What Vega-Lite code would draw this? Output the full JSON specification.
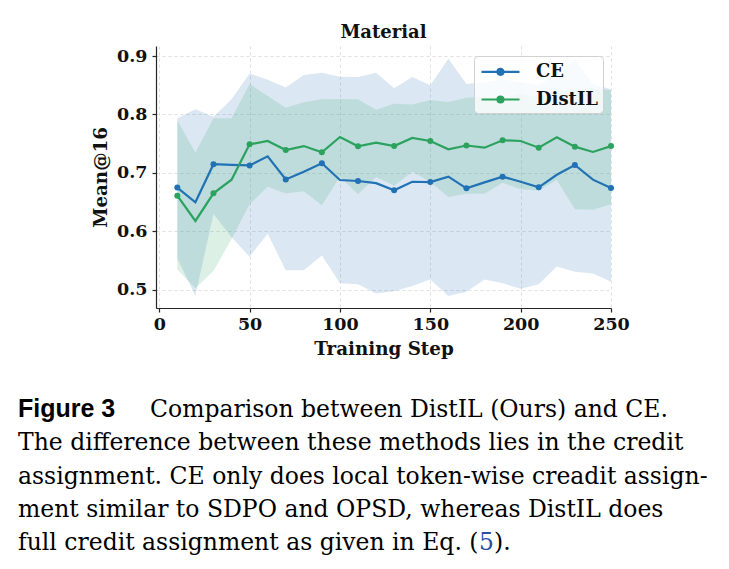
{
  "$schema": "https://vega.github.io/schema/vega-lite/v6.json",
  "background": "white",
  "padding": {"left": 18, "top": 24, "right": 5, "bottom": 5},
  "bounds": "flush",
  "spacing": 109,
  "config": {
    "view": {"stroke": null},
    "axis": {
      "labelFont": "DejaVu Serif", "labelFontWeight": "bold", "labelFontSize": 17.5, "labelColor": "#111111",
      "titleFont": "DejaVu Serif", "titleFontWeight": "bold", "titleFontSize": 18.3, "titleColor": "#111111",
      "domainColor": "#262626", "domainWidth": 1.2, "tickColor": "#262626", "tickWidth": 1.2, "tickSize": 4,
      "gridColor": "#c8c8c8", "gridDash": [3, 3], "gridWidth": 0.8, "gridOpacity": 0.7,
      "labelFlush": false
    },
    "title": {"font": "DejaVu Serif", "fontWeight": "bold", "fontSize": 18, "color": "#111111"}
  },
  "vconcat": [
    {
      "width": 455,
      "height": 262,
      "title": {"text": "Material", "anchor": "middle", "baseline": "alphabetic", "offset": 7, "dy": 17},
      "data": {"values": [
        {"step": 10, "method": "CE", "mean": 0.675, "lo": 0.554, "hi": 0.7935},
        {"step": 20, "method": "CE", "mean": 0.650, "lo": 0.490, "hi": 0.809},
        {"step": 30, "method": "CE", "mean": 0.715, "lo": 0.630, "hi": 0.796},
        {"step": 40, "method": "CE", "mean": 0.714, "lo": 0.590, "hi": 0.826},
        {"step": 50, "method": "CE", "mean": 0.713, "lo": 0.557, "hi": 0.870},
        {"step": 60, "method": "CE", "mean": 0.7285, "lo": 0.596, "hi": 0.8595},
        {"step": 70, "method": "CE", "mean": 0.689, "lo": 0.5336, "hi": 0.846},
        {"step": 80, "method": "CE", "mean": 0.702, "lo": 0.5336, "hi": 0.8675},
        {"step": 90, "method": "CE", "mean": 0.7166, "lo": 0.559, "hi": 0.8715},
        {"step": 100, "method": "CE", "mean": 0.688, "lo": 0.5115, "hi": 0.8646},
        {"step": 110, "method": "CE", "mean": 0.6863, "lo": 0.5097, "hi": 0.864},
        {"step": 120, "method": "CE", "mean": 0.6826, "lo": 0.494, "hi": 0.8715},
        {"step": 130, "method": "CE", "mean": 0.6704, "lo": 0.498, "hi": 0.845},
        {"step": 140, "method": "CE", "mean": 0.685, "lo": 0.5068, "hi": 0.864},
        {"step": 150, "method": "CE", "mean": 0.6845, "lo": 0.518, "hi": 0.850},
        {"step": 160, "method": "CE", "mean": 0.6937, "lo": 0.4897, "hi": 0.8955},
        {"step": 170, "method": "CE", "mean": 0.6738, "lo": 0.497, "hi": 0.852},
        {"step": 180, "method": "CE", "mean": 0.684, "lo": 0.518, "hi": 0.855},
        {"step": 190, "method": "CE", "mean": 0.6937, "lo": 0.5115, "hi": 0.86},
        {"step": 200, "method": "CE", "mean": 0.685, "lo": 0.502, "hi": 0.855},
        {"step": 210, "method": "CE", "mean": 0.6755, "lo": 0.5097, "hi": 0.85},
        {"step": 220, "method": "CE", "mean": 0.697, "lo": 0.540, "hi": 0.87},
        {"step": 230, "method": "CE", "mean": 0.7137, "lo": 0.531, "hi": 0.894},
        {"step": 240, "method": "CE", "mean": 0.6886, "lo": 0.528, "hi": 0.852},
        {"step": 250, "method": "CE", "mean": 0.6744, "lo": 0.514, "hi": 0.843},
        {"step": 10, "method": "DistIL", "mean": 0.6613, "lo": 0.535, "hi": 0.790},
        {"step": 20, "method": "DistIL", "mean": 0.618, "lo": 0.503, "hi": 0.7347},
        {"step": 30, "method": "DistIL", "mean": 0.6653, "lo": 0.5325, "hi": 0.7935},
        {"step": 40, "method": "DistIL", "mean": 0.6886, "lo": 0.587, "hi": 0.7935},
        {"step": 50, "method": "DistIL", "mean": 0.749, "lo": 0.6465, "hi": 0.852},
        {"step": 60, "method": "DistIL", "mean": 0.7547, "lo": 0.6766, "hi": 0.8316},
        {"step": 70, "method": "DistIL", "mean": 0.7393, "lo": 0.665, "hi": 0.8117},
        {"step": 80, "method": "DistIL", "mean": 0.746, "lo": 0.669, "hi": 0.821},
        {"step": 90, "method": "DistIL", "mean": 0.7353, "lo": 0.645, "hi": 0.826},
        {"step": 100, "method": "DistIL", "mean": 0.7615, "lo": 0.6937, "hi": 0.8265},
        {"step": 110, "method": "DistIL", "mean": 0.7456, "lo": 0.6635, "hi": 0.826},
        {"step": 120, "method": "DistIL", "mean": 0.752, "lo": 0.693, "hi": 0.808},
        {"step": 130, "method": "DistIL", "mean": 0.746, "lo": 0.678, "hi": 0.8185},
        {"step": 140, "method": "DistIL", "mean": 0.7598, "lo": 0.702, "hi": 0.817},
        {"step": 150, "method": "DistIL", "mean": 0.7547, "lo": 0.685, "hi": 0.8248},
        {"step": 160, "method": "DistIL", "mean": 0.7405, "lo": 0.659, "hi": 0.8214},
        {"step": 170, "method": "DistIL", "mean": 0.747, "lo": 0.6647, "hi": 0.8288},
        {"step": 180, "method": "DistIL", "mean": 0.7433, "lo": 0.6647, "hi": 0.83},
        {"step": 190, "method": "DistIL", "mean": 0.756, "lo": 0.6834, "hi": 0.828},
        {"step": 200, "method": "DistIL", "mean": 0.7547, "lo": 0.672, "hi": 0.835},
        {"step": 210, "method": "DistIL", "mean": 0.7433, "lo": 0.670, "hi": 0.83},
        {"step": 220, "method": "DistIL", "mean": 0.761, "lo": 0.688, "hi": 0.84},
        {"step": 230, "method": "DistIL", "mean": 0.745, "lo": 0.638, "hi": 0.842},
        {"step": 240, "method": "DistIL", "mean": 0.736, "lo": 0.637, "hi": 0.845},
        {"step": 250, "method": "DistIL", "mean": 0.746, "lo": 0.6465, "hi": 0.8414}
      ]},
      "encoding": {
        "x": {
          "field": "step", "type": "quantitative",
          "scale": {"domain": [-1.8, 250], "nice": false, "zero": false},
          "axis": {"values": [0, 50, 100, 150, 200, 250], "title": "Training Step", "labelPadding": 3, "titlePadding": 8}
        },
        "color": {
          "field": "method", "type": "nominal",
          "scale": {"domain": ["CE", "DistIL"], "range": ["#2171b5", "#2ca25f"]}
        }
      },
      "layer": [
        {
          "mark": {"type": "area", "opacity": 0.16},
          "encoding": {
            "y": {"field": "lo", "type": "quantitative",
              "scale": {"domain": [0.4692, 0.9171], "nice": false, "zero": false},
              "axis": {"values": [0.5, 0.6, 0.7, 0.8, 0.9], "format": ".1f", "title": "Mean@16", "labelPadding": 5, "titlePadding": 6}},
            "y2": {"field": "hi"}
          }
        },
        {
          "mark": {"type": "line", "strokeWidth": 2.2},
          "encoding": {
            "y": {"field": "mean", "type": "quantitative"},
            "color": {
              "field": "method", "type": "nominal",
              "legend": {
                "title": null, "orient": "none", "legendX": 318, "legendY": 10,
                "symbolType": "M-0.83,0L2.97,0M0.77,0A0.3,0.3,0,1,1,1.37,0A0.3,0.3,0,1,1,0.77,0Z",
                "symbolSize": 400, "symbolStrokeWidth": 2.2,
                "labelFont": "DejaVu Serif", "labelFontWeight": "bold", "labelFontSize": 18, "labelColor": "#111111",
                "labelOffset": 34.7, "rowPadding": 6.7, "padding": 4.3,
                "fillColor": "rgba(255,255,255,0.8)", "strokeColor": "#d0d0d0", "cornerRadius": 4,
                "encode": {"symbols": {"update": {
                  "fill": {"scale": "color", "field": "value"},
                  "stroke": {"scale": "color", "field": "value"},
                  "opacity": {"value": 1}
                }}}
              }
            }
          }
        },
        {
          "transform": [{"filter": "datum.step % 20 == 10"}],
          "mark": {"type": "circle", "size": 36, "opacity": 1},
          "encoding": {"y": {"field": "mean", "type": "quantitative"}}
        }
      ]
    },
    {
      "width": 690,
      "height": 133,
      "data": {"values": [
        {"line": 1, "part": "head", "text": "Figure 3"},
        {"line": 1, "part": "body", "text": "Comparison between DistIL (Ours) and CE."},
        {"line": 2, "part": "first", "text": "The difference between these methods lies in the credit"},
        {"line": 3, "part": "first", "text": "assignment. CE only does local token-wise creadit assign-"},
        {"line": 4, "part": "first", "text": "ment similar to SDPO and OPSD, whereas DistIL does"},
        {"line": 5, "part": "first", "text": "full credit assignment as given in Eq. ("},
        {"line": 5, "part": "ref", "text": "5"},
        {"line": 5, "part": "close", "text": ")."}
      ]},
      "encoding": {
        "y": {"field": "line", "type": "ordinal", "scale": {"type": "point", "padding": 0}, "axis": null},
        "text": {"field": "text"}
      },
      "layer": [
        {
          "transform": [{"filter": "datum.part == 'head'"}],
          "mark": {"type": "text", "x": -138, "align": "left", "baseline": "alphabetic", "font": "Liberation Sans", "fontWeight": "bold", "fontSize": 25, "color": "#000000"}
        },
        {
          "transform": [{"filter": "datum.part == 'body'"}],
          "mark": {"type": "text", "x": -6, "align": "left", "baseline": "alphabetic", "font": "DejaVu Serif", "fontSize": 23.5, "color": "#000000"}
        },
        {
          "transform": [{"filter": "datum.part == 'first'"}],
          "mark": {"type": "text", "x": -138, "align": "left", "baseline": "alphabetic", "font": "DejaVu Serif", "fontSize": 23.5, "color": "#000000"}
        },
        {
          "transform": [{"filter": "datum.part == 'ref'"}],
          "mark": {"type": "text", "x": 323, "align": "left", "baseline": "alphabetic", "font": "DejaVu Serif", "fontSize": 23.5, "color": "#2a4fa0"}
        },
        {
          "transform": [{"filter": "datum.part == 'close'"}],
          "mark": {"type": "text", "x": 338, "align": "left", "baseline": "alphabetic", "font": "DejaVu Serif", "fontSize": 23.5, "color": "#000000"}
        }
      ]
    }
  ]
}
